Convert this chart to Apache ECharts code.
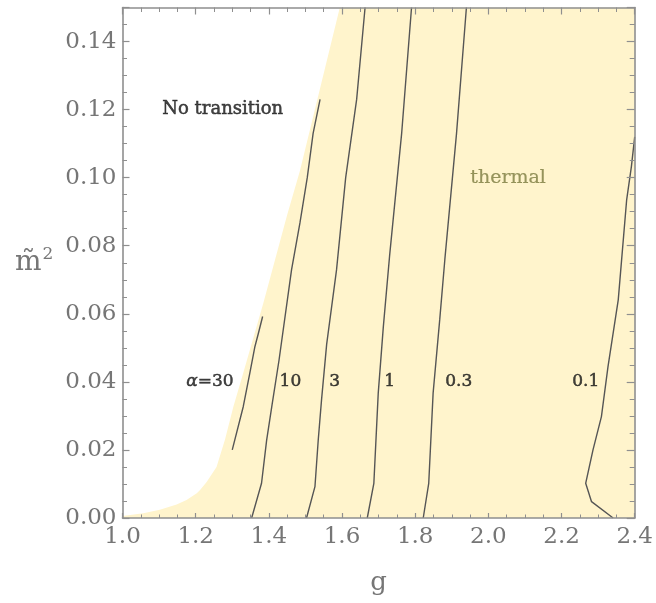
<!DOCTYPE html>
<html>
<head>
<meta charset="utf-8">
<script src="https://cdn.jsdelivr.net/npm/echarts@6/dist/echarts.min.js"></script>
<style>
  html, body { margin: 0; padding: 0; background: #ffffff; }
  #chart { width: 656px; height: 603px; }
</style>
</head>
<body>
<div id="chart"></div>
<script>
// Edge of the thermal-transition region in the (g, m̃²) plane
const boundaryG = [1.000, 1.057, 1.102, 1.148, 1.175, 1.203, 1.212, 1.230, 1.257, 1.280, 1.303, 1.330, 1.385, 1.450, 1.485, 1.594];
const boundaryM = [0.0006, 0.0014, 0.0024, 0.0040, 0.0053, 0.0073, 0.0082, 0.0106, 0.0150, 0.0230, 0.0327, 0.0426, 0.0632, 0.0890, 0.1020, 0.1500];

// Contours of constant alpha
const a30G  = [1.300, 1.330, 1.348, 1.362, 1.372, 1.383];
const a30M  = [0.0200, 0.0327, 0.0426, 0.0504, 0.0545, 0.0592];
const a10G  = [1.353, 1.380, 1.394, 1.408, 1.428, 1.462, 1.485, 1.505, 1.521, 1.540];
const a10M  = [0.0000, 0.0102, 0.0229, 0.0327, 0.0465, 0.0729, 0.0867, 0.1000, 0.1130, 0.1230];
const a3G   = [1.503, 1.526, 1.535, 1.544, 1.558, 1.585, 1.610, 1.640, 1.663];
const a3M   = [0.0000, 0.0092, 0.0229, 0.0347, 0.0510, 0.0729, 0.1000, 0.1230, 0.1500];
const a1G   = [1.669, 1.687, 1.699, 1.713, 1.730, 1.763, 1.790];
const a1M   = [0.0000, 0.0102, 0.0367, 0.0563, 0.0770, 0.1130, 0.1500];
const a03G  = [1.822, 1.837, 1.849, 1.867, 1.881, 1.913, 1.940];
const a03M  = [0.0000, 0.0102, 0.0367, 0.0582, 0.0759, 0.1130, 0.1500];
const a01G  = [2.341, 2.282, 2.266, 2.286, 2.309, 2.327, 2.355, 2.378, 2.391, 2.400];
const a01M  = [0.0000, 0.0048, 0.0102, 0.0200, 0.0298, 0.0445, 0.0641, 0.0935, 0.1033, 0.1120];

// Contour labels and where they sit
const contourLabels = ['{i|α}=30', '10', '3', '1', '0.3', '0.1'];
const contourLabelG = [1.239, 1.459, 1.580, 1.730, 1.919, 2.266];
const contourLabelM = [0.040, 0.040, 0.040, 0.040, 0.040, 0.040];

// Region names
const regionNames = ['No transition', 'thermal'];
const regionG = [1.274, 2.054];
const regionM = [0.1200, 0.1000];

// Axis ranges and tick spacing
const gRange = [1.0, 2.4];
const mRange = [0.0, 0.15];
const gStep = 0.2;
const mStep = 0.02;

const zip = (xs, ys) => xs.map((x, i) => [x, ys[i]]);

const contours = [
  zip(a30G, a30M), zip(a10G, a10M), zip(a3G, a3M),
  zip(a1G, a1M), zip(a03G, a03M), zip(a01G, a01M)
];

const SERIF = '"DejaVu Serif", "Liberation Serif", serif';
const FRAME = '#8f8f8f';
const TICKTEXT = '#767676';
const INK = '#141414';

function frameAxis(extra) {
  return Object.assign({
    type: 'value',
    z: 10,
    splitLine: { show: false },
    axisLine: { show: true, onZero: false, lineStyle: { color: FRAME, width: 1.6 } },
    axisTick: { show: true, inside: true, length: 6, lineStyle: { color: FRAME, width: 1.2 } },
    minorTick: { show: true, splitNumber: 4, length: 4, lineStyle: { color: FRAME, width: 1.0 } },
    axisLabel: { show: false }
  }, extra);
}

const chart = echarts.init(document.getElementById('chart'), null, { renderer: 'canvas' });

const option = {
  animation: false,
  backgroundColor: '#ffffff',
  grid: { left: 122.5, right: 21, top: 7.5, bottom: 85, containLabel: false },
  xAxis: [
    frameAxis({
      position: 'bottom',
      min: gRange[0], max: gRange[1], interval: gStep,
      axisTick: { show: true, inside: true, length: 5, lineStyle: { color: FRAME, width: 1.2 } },
      minorTick: { show: true, splitNumber: 4, length: 3.5, lineStyle: { color: FRAME, width: 1.0 } },
      axisLabel: {
        show: true, margin: 8, color: TICKTEXT, fontFamily: SERIF, fontSize: 23,
        formatter: v => v.toFixed(1)
      },
      name: 'g',
      nameLocation: 'middle',
      nameGap: 52,
      nameTextStyle: { color: TICKTEXT, fontFamily: SERIF, fontSize: 26 }
    }),
    frameAxis({
      position: 'top',
      min: gRange[0], max: gRange[1], interval: gStep,
      axisTick: { show: true, inside: true, length: 7, lineStyle: { color: FRAME, width: 1.2 } },
      minorTick: { show: true, splitNumber: 4, length: 4.5, lineStyle: { color: FRAME, width: 1.0 } }
    })
  ],
  yAxis: [
    frameAxis({
      position: 'left',
      min: mRange[0], max: mRange[1], interval: mStep,
      axisTick: { show: true, inside: true, length: 7, lineStyle: { color: FRAME, width: 1.2 } },
      minorTick: { show: true, splitNumber: 4, length: 4.5, lineStyle: { color: FRAME, width: 1.0 } },
      axisLabel: {
        show: true, margin: 6, color: TICKTEXT, fontFamily: SERIF, fontSize: 23,
        showMaxLabel: false,
        formatter: v => (v > 0.145 ? '' : v.toFixed(2))
      }
    }),
    frameAxis({
      position: 'right',
      min: mRange[0], max: mRange[1], interval: mStep,
      axisTick: { show: true, inside: true, length: 8, lineStyle: { color: FRAME, width: 1.2 } },
      minorTick: { show: true, splitNumber: 4, length: 5, lineStyle: { color: FRAME, width: 1.0 } }
    })
  ],
  graphic: [],
  series: [
    {
      // shaded region where the transition is thermal
      type: 'custom',
      xAxisIndex: 0, yAxisIndex: 0,
      z: 1,
      clip: true,
      silent: true,
      data: [0],
      renderItem: function (params, api) {
        const pts = zip(boundaryG, boundaryM);
        pts.push([gRange[1], mRange[1]], [gRange[1], mRange[0]], [gRange[0], mRange[0]]);
        return {
          type: 'polygon',
          shape: { points: pts.map(p => api.coord(p)) },
          style: { fill: '#fff4cc', stroke: null }
        };
      }
    },
    ...contours.map(pts => ({
      type: 'line',
      xAxisIndex: 0, yAxisIndex: 0,
      z: 3,
      data: pts,
      showSymbol: false,
      symbol: 'none',
      clip: true,
      silent: true,
      lineStyle: { color: '#555555', width: 1.4 }
    })),
    {
      // contour level labels
      type: 'scatter',
      xAxisIndex: 0, yAxisIndex: 0,
      z: 4,
      symbolSize: 0,
      silent: true,
      data: contourLabels.map((t, i) => ({ value: [contourLabelG[i], contourLabelM[i]], name: t })),
      label: {
        show: true,
        position: 'inside',
        formatter: p => p.name,
        color: INK,
        fontFamily: SERIF,
        fontSize: 17,
        textBorderColor: INK,
        textBorderWidth: 0.5,
        rich: {
          i: { fontStyle: 'italic', fontFamily: SERIF, fontSize: 17, color: INK, textBorderColor: INK, textBorderWidth: 0.5 }
        }
      }
    },
    {
      // region names
      type: 'scatter',
      xAxisIndex: 0, yAxisIndex: 0,
      z: 4,
      symbolSize: 0,
      silent: true,
      data: regionNames.map((t, i) => {
        const c = i === 0 ? INK : '#7c7c40';
        return {
          value: [regionG[i], regionM[i]], name: t,
          label: { color: c, textBorderColor: c, textBorderWidth: i === 0 ? 0.5 : 0.2, fontSize: i === 0 ? 18 : 19 }
        };
      }),
      label: {
        show: true,
        position: 'inside',
        formatter: p => p.name,
        fontFamily: SERIF,
        fontSize: 18
      }
    }
  ]
};

chart.setOption(option);

// vertical-axis title, drawn beside the tick labels
const yCenter = chart.convertToPixel({ yAxisIndex: 0 }, 0.077);
chart.setOption({
  graphic: [{
    type: 'text',
    left: 15,
    top: yCenter - 10,
    silent: true,
    style: {
      text: '{m|m\u0303}{s|2}',
      fontFamily: SERIF,
      fill: TICKTEXT,
      rich: {
        m: { fontFamily: SERIF, fontSize: 28, fill: TICKTEXT, color: TICKTEXT, verticalAlign: 'bottom' },
        s: { fontFamily: SERIF, fontSize: 17, fill: TICKTEXT, color: TICKTEXT, verticalAlign: 'top', padding: [0, 0, 14, 1] }
      }
    }
  }]
});
</script>
</body>
</html>
